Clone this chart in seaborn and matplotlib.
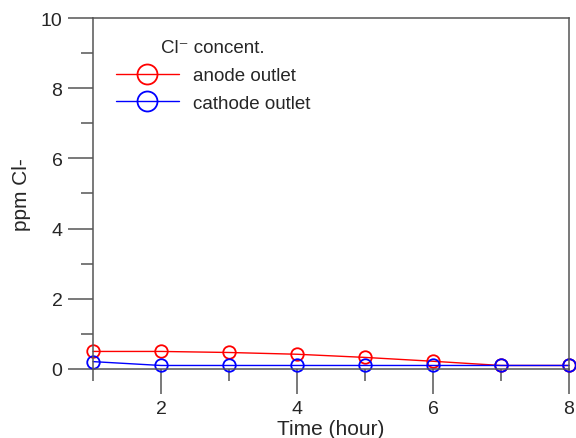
import pandas as pd
import seaborn as sns
import matplotlib.pyplot as plt
from matplotlib.ticker import MultipleLocator

# Chloride concentration at the anode and cathode outlets over time

hours = [1, 2, 3, 4, 5, 6, 7, 8]
anode_ppm = [0.50, 0.50, 0.47, 0.42, 0.33, 0.22, 0.10, 0.10]
cathode_ppm = [0.21, 0.10, 0.10, 0.10, 0.10, 0.10, 0.10, 0.10]
series_names = ['anode outlet', 'cathode outlet']
series_colors = ['#ff0000', '#0000ff']


def main():
    sns.set_style('ticks')
    plt.rcParams['font.family'] = ['Liberation Sans', 'DejaVu Sans']

    df = pd.DataFrame({'hour': hours * 2,
                       'ppm': anode_ppm + cathode_ppm,
                       'where': [series_names[0]] * len(hours) +
                                [series_names[1]] * len(hours)})

    fig = plt.figure(figsize=(5.76, 4.39), dpi=100)
    ax = fig.add_axes([0.1615, 0.1572, 0.8263, 0.7995])

    for name, color in zip(series_names, series_colors):
        sns.lineplot(data=df[df['where'] == name], x='hour', y='ppm',
                     color=color, marker='o', markersize=9,
                     markerfacecolor='none', markeredgecolor=color,
                     markeredgewidth=1.3, linewidth=1.0, label=name,
                     clip_on=False, ax=ax)

    ax.set_xlim(1, 8)
    ax.set_ylim(0, 10)
    ax.xaxis.set_major_locator(MultipleLocator(2))
    ax.xaxis.set_minor_locator(MultipleLocator(1))
    ax.yaxis.set_major_locator(MultipleLocator(2))
    ax.yaxis.set_minor_locator(MultipleLocator(1))
    ax.tick_params(which='major', length=18, width=1.1, color='#555555',
                   labelsize=14, pad=4)
    ax.tick_params(which='minor', length=8.5, width=1.1, color='#555555')
    for sp in ax.spines.values():
        sp.set_color('#555555')
        sp.set_linewidth(1.1)

    ax.set_xlabel('Time (hour)', fontsize=15, labelpad=2)
    ax.set_ylabel('ppm Cl-', fontsize=15, labelpad=7)

    leg = ax.legend(title='Cl\u207b concent.', loc='upper left',
                    bbox_to_anchor=(0.048, 0.94), frameon=False,
                    borderaxespad=0, borderpad=0,
                    fontsize=13.5, title_fontsize=13.5, handlelength=3.36,
                    handletextpad=0.75, labelspacing=0.55, markerscale=1.6)
    leg.get_title().set_family(['Liberation Sans', 'DejaVu Sans'])
    leg._legend_box.sep = 8

    fig.savefig('out.png', dpi=100)


if __name__ == '__main__':
    main()
